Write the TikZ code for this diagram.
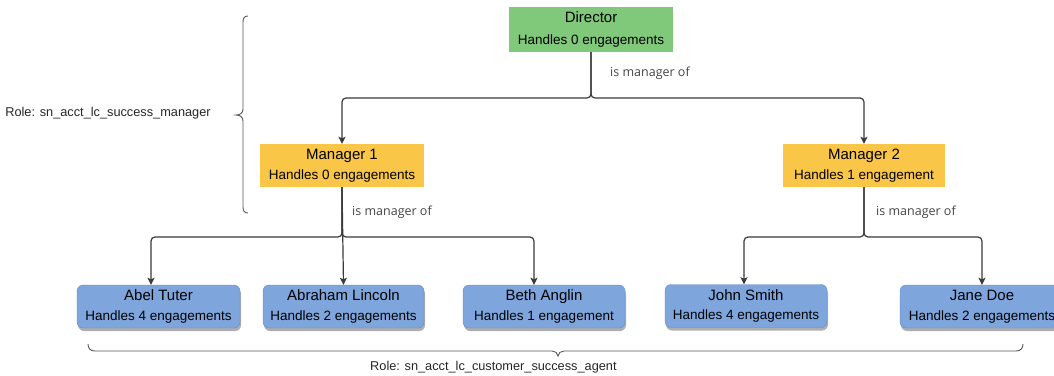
\documentclass[tikz,border=0pt]{standalone}
\usepackage{fontspec}
\setmainfont{Liberation Sans}
\newfontfamily\lblfont{Open Sans}
\usetikzlibrary{arrows.meta,shadows}
\definecolor{dirgreen}{RGB}{128,200,122}
\definecolor{mgrorange}{RGB}{249,198,72}
\definecolor{agentblue}{RGB}{126,166,221}
\definecolor{agentedge}{RGB}{100,140,200}
\definecolor{connc}{RGB}{58,58,58}
\definecolor{lblc}{RGB}{70,70,70}
\definecolor{bracec}{RGB}{85,85,85}
\tikzset{
  lead/.style={fill=dirgreen, draw=none, inner sep=0pt, align=center,
    font=\fontsize{13.5}{22}\selectfont},
  mgr/.style={fill=mgrorange, draw=none, inner sep=0pt, align=center,
    minimum height=43pt, font=\fontsize{13.5}{20}\selectfont},
  agent/.style={fill=agentblue, draw=agentedge, line width=0.4pt, rounded corners=6pt,
    inner sep=0pt, align=center, minimum height=43pt,
    font=\fontsize{13.5}{19.5}\selectfont,
    drop shadow={shadow xshift=1pt, shadow yshift=-3pt, opacity=0.45, fill=black!70}},
  conn/.style={draw=connc, line width=1.2pt, rounded corners=4pt,
    -{Stealth[length=7pt,width=7pt,inset=1.5pt]}},
  ismgr/.style={font=\lblfont\fontsize{12.5}{15}\selectfont, text=lblc, anchor=west, inner sep=0pt},
  role/.style={font=\fontsize{12.75}{15}\selectfont, text=black!85, inner sep=0pt},
  bracel/.style={draw=bracec, line width=0.9pt}
}
\begin{document}
\begin{tikzpicture}[x=1pt,y=-1pt]
\useasboundingbox (0,0) rectangle (1054,375);
\fill[white] (0,0) rectangle (1054,375);
\clip (0,0) rectangle (1054,375);

% nodes
\node[lead, minimum width=164pt, minimum height=45pt] (dir) at (591,29.5)
  {{\fontsize{15}{22}\selectfont Director}\\Handles 0 engagements};
\node[mgr, minimum width=164pt] (m1) at (342,165.5)
  {{\fontsize{15}{20}\selectfont Manager 1}\\Handles 0 engagements};
\node[mgr, minimum width=162pt] (m2) at (864,165.5)
  {{\fontsize{15}{20}\selectfont Manager 2}\\Handles 1 engagement};

\node[agent, minimum width=163pt] (abel) at (158.5,306.5)
  {{\fontsize{15}{19.5}\selectfont Abel Tuter}\\Handles 4 engagements};
\node[agent, minimum width=161pt] (abr) at (343.5,306.5)
  {{\fontsize{15}{19.5}\selectfont Abraham Lincoln}\\Handles 2 engagements};
\node[agent, minimum width=162pt] (beth) at (544,306.5)
  {{\fontsize{15}{19.5}\selectfont Beth Anglin}\\Handles 1 engagement};
\node[agent, minimum width=162pt] (john) at (746,306)
  {{\fontsize{15}{19.5}\selectfont John Smith}\\Handles 4 engagements};
\node[agent, minimum width=164pt] (jane) at (982,306.5)
  {{\fontsize{15}{19.5}\selectfont Jane Doe}\\Handles 2 engagements};

% labels
\node[ismgr] (l0) at (610,73) {is manager of};
\node[ismgr] (l1) at (352,212) {is manager of};
\node[ismgr] (l2) at (876,212) {is manager of};

\node[role] (r1) at (108,113) {Role: sn\_acct\_lc\_success\_manager};
\node[role, anchor=west] (r2) at (370,367) {Role: sn\_acct\_lc\_customer\_success\_agent};

% connectors
\draw[conn] (dir.south) -- (dir.south |- 0,98) -- (m1.north |- 0,98) -- (m1.north);
\draw[conn] (dir.south) -- (dir.south |- 0,98) -- (m2.north |- 0,98) -- (m2.north);

\draw[conn] (m1.south) -- (m1.south |- 0,237) -- ([xshift=-7.5pt]abel.north |- 0,237) -- ([xshift=-7.5pt]abel.north);
\draw[conn] (m1.south) -- (abr.north);
\draw[conn] (m1.south) -- (m1.south |- 0,237) -- ([xshift=-10pt]beth.north |- 0,237) -- ([xshift=-10pt]beth.north);

\draw[conn] (m2.south) -- (m2.south |- 0,237) -- ([xshift=-2pt]john.north |- 0,237) -- ([xshift=-2pt]john.north);
\draw[conn] (m2.south) -- (m2.south |- 0,237) -- (jane.north |- 0,237) -- (jane.north);

% braces
\draw[bracel] (248,16) .. controls (244.5,16) and (243,18) .. (243,22) -- (243,109)
  .. controls (243,113) and (240,115) .. (236,115)
  .. controls (240,115) and (243,117) .. (243,121) -- (243,207)
  .. controls (243,211) and (244.5,213) .. (248,213);

\draw[bracel] (88,344) .. controls (88,348) and (90,351) .. (95,351) -- (552,351)
  .. controls (555,351) and (558,353) .. (558,356)
  .. controls (558,353) and (561,351) .. (564,351) -- (1016,351)
  .. controls (1021,351) and (1023,348) .. (1023,344);
\end{tikzpicture}
\end{document}
